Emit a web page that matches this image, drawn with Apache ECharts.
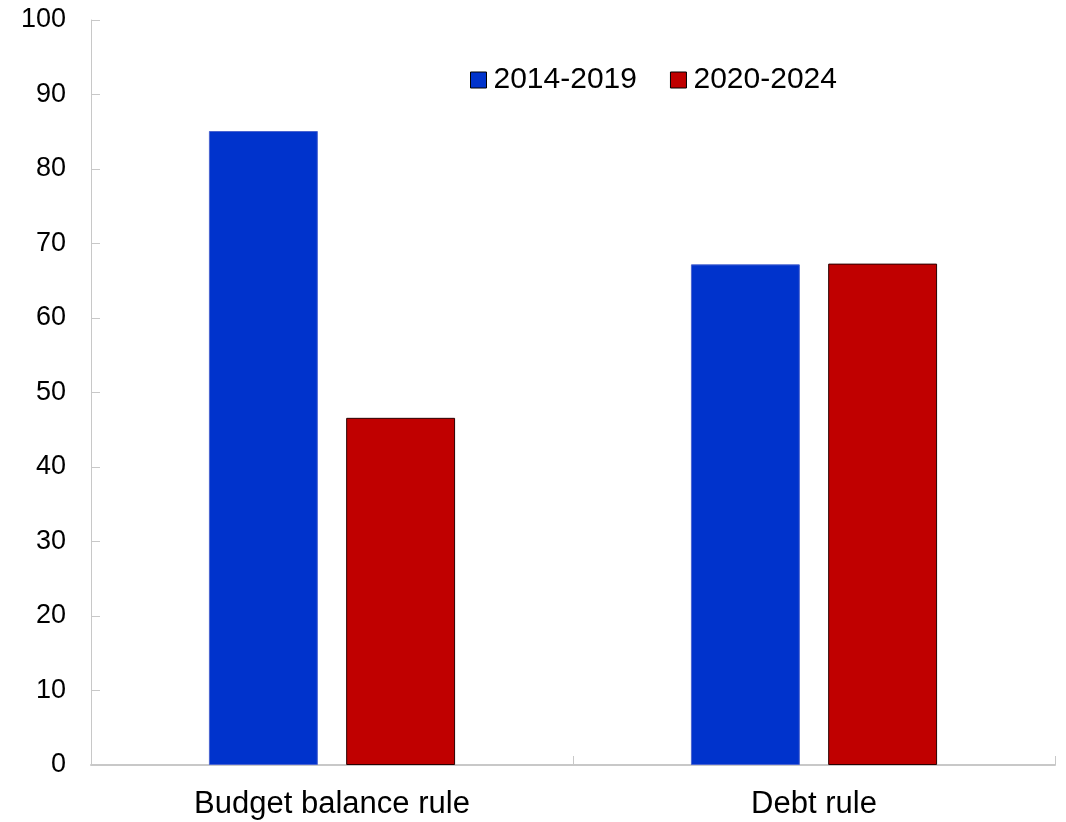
<!DOCTYPE html>
<html>
<head>
<meta charset="utf-8">
<script src="https://cdn.jsdelivr.net/npm/echarts@6/dist/echarts.min.js"></script>
<style>
  html, body { margin: 0; padding: 0; background: #fff; }
  #chart { width: 1066px; height: 822px; }
</style>
</head>
<body>
<div id="chart"></div>
<script>
const categories = ['Budget balance rule', 'Debt rule'];
const period1 = [85.1, 67.2];
const period2 = [46.6, 67.3];
const seriesNames = ['2014-2019', '2020-2024'];

const font = 'Liberation Sans, Arial, sans-serif';
const chart = echarts.init(document.getElementById('chart'));

chart.setOption({
  animation: false,
  textStyle: { fontFamily: font },
  grid: { left: 91, right: 11, top: 20, bottom: 57, containLabel: false },
  legend: {
    left: 465,
    top: 60,
    itemWidth: 16,
    itemHeight: 16,
    itemGap: 33,
    icon: 'rect',
    itemStyle: { borderColor: '#000', borderWidth: 1 },
    textStyle: { fontSize: 30, color: '#000', fontFamily: font, padding: [0, 0, 0, 2] },
    data: seriesNames
  },
  xAxis: {
    type: 'category',
    data: categories,
    axisLine: { lineStyle: { color: '#c8c8c8', width: 2 } },
    axisTick: { show: true, inside: true, length: 9, lineStyle: { color: '#c8c8c8' } },
    axisLabel: { fontSize: 31, color: '#000', margin: 24, fontFamily: font },
    splitLine: { show: false }
  },
  yAxis: {
    type: 'value',
    min: 0,
    max: 100,
    interval: 10,
    axisLine: { show: true, lineStyle: { color: '#c8c8c8', width: 1 } },
    axisTick: { show: true, inside: true, length: 9, lineStyle: { color: '#c8c8c8' } },
    axisLabel: { fontSize: 27, color: '#000', margin: 25, fontFamily: font },
    splitLine: { show: false }
  },
  series: [
    {
      name: seriesNames[0],
      type: 'bar',
      data: period1,
      barWidth: '22.6%',
      barGap: '26%',
      itemStyle: { color: '#0033cc', borderColor: '#4a64d0', borderWidth: 1 }
    },
    {
      name: seriesNames[1],
      type: 'bar',
      data: period2,
      barWidth: '22.6%',
      itemStyle: { color: '#c00000', borderColor: '#2a0000', borderWidth: 1 }
    }
  ]
});

window.addEventListener('resize', () => chart.resize());
</script>
</body>
</html>
